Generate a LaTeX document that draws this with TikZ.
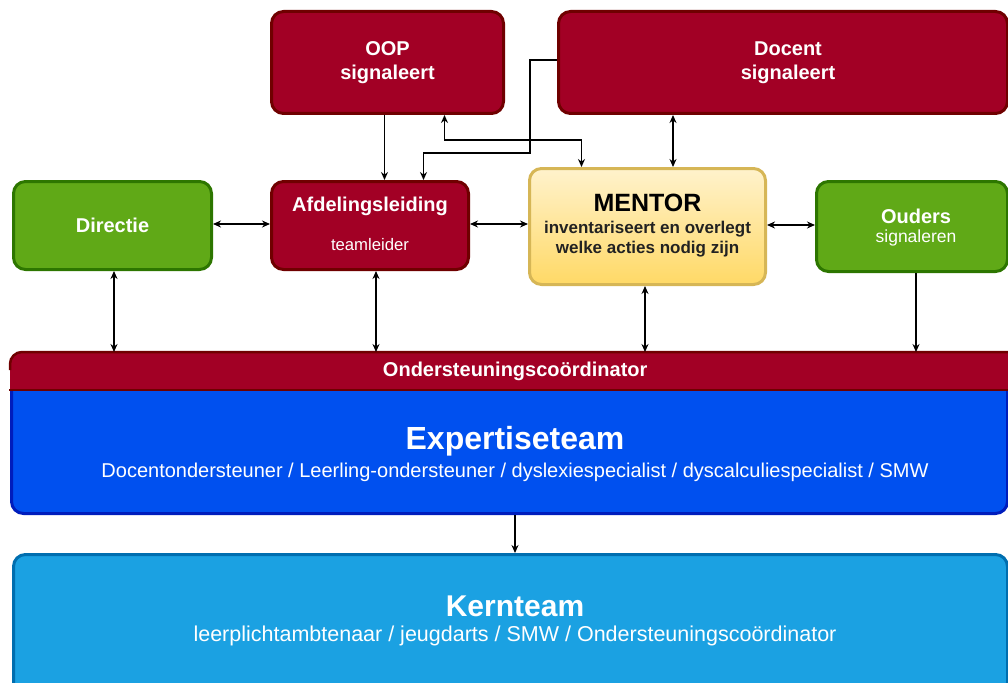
\documentclass[tikz,border=0pt]{standalone}
\usepackage{fontspec}
\setmainfont{Liberation Sans}
\usetikzlibrary{arrows.meta,calc}
\definecolor{redf}{HTML}{A20025}
\definecolor{redd}{HTML}{6F0000}
\definecolor{greenf}{HTML}{60A917}
\definecolor{greend}{HTML}{2D7600}
\definecolor{bluef}{HTML}{0050EF}
\definecolor{blued}{HTML}{001DBC}
\definecolor{cyanf}{HTML}{1BA1E2}
\definecolor{cyand}{HTML}{006EAF}
\definecolor{yelt}{HTML}{FFF2CC}
\definecolor{yelb}{HTML}{FFD966}
\definecolor{yeld}{HTML}{D6B656}
\definecolor{txtd}{HTML}{222222}
\begin{document}
\begin{tikzpicture}[x=1pt,y=-1pt,
 box/.style={rounded corners=12pt, line width=3pt, inner sep=0pt, align=center, anchor=north west},
 redbox/.style={box, fill=redf, draw=redd, text=white},
 greenbox/.style={box, fill=greenf, draw=greend, text=white},
 big/.style={font=\fontsize{20}{24}\selectfont\bfseries},
 arr/.style={-{Stealth[length=8pt,width=7pt]}, line width=1.3pt},
 darr/.style={{Stealth[length=8pt,width=7pt]}-{Stealth[length=8pt,width=7pt]}, line width=1.3pt},
 ]
\useasboundingbox (0,0) rectangle (1008,682);
\clip (0,0) rectangle (1008,682);
% boxes
\node[redbox, big, minimum width=232pt, minimum height=102pt] (oop) at (270,10) {OOP\\signaleert};
\node[redbox, big, minimum width=449pt, minimum height=102pt] (docent) at (557,10) {\hspace*{10pt}Docent\\\hspace*{10pt}signaleert};
\node[greenbox, big, minimum width=198pt, minimum height=88pt] (dir) at (12,180) {Directie};
\node[redbox, minimum width=197pt, minimum height=88pt] (afd) at (270,180) {};
\node[big, text=white] at ($(afd.north)+(0,26)$) {Afdelingsleiding};
\node[text=white, font=\fontsize{16.7}{20}\selectfont] at ($(afd.north)+(0,65)$) {teamleider};
\node[box, top color=yelt, bottom color=yelb, draw=yeld, minimum width=236pt, minimum height=116pt] (mentor) at (528,167) {};
\node[font=\fontsize{25}{28}\selectfont\bfseries] at ($(mentor.north)+(0,36)$) {MENTOR};
\node[text=txtd, align=center, font=\fontsize{17}{20.5}\selectfont\bfseries] at ($(mentor.north)+(0,72)$) {inventariseert en overlegt\\welke acties nodig zijn};
\node[greenbox, minimum width=191pt, minimum height=90pt] (ouders) at (815,180) {};
\node[text=white, big] at ($(ouders.north)+(4,36)$) {Ouders};
\node[text=white, font=\fontsize{17.5}{21}\selectfont] at ($(ouders.north)+(4,58)$) {signaleren};
% expertise
\node[box, fill=bluef, draw=blued, minimum width=996pt, minimum height=160pt] (exp) at (10,352) {};
\fill[redf] (10,390) -- (10,370) [rounded corners=12pt] -- (10,352) -- (1015,352) [sharp corners] -- (1015,390) -- cycle;
\draw[redd, line width=2.5pt] (10,370) [rounded corners=12pt] -- (10,352) -- (1015,352);
\draw[redd, line width=2pt] (9,389.5) -- (1015,389.5);
\node[inner sep=0pt, minimum width=996pt, minimum height=38pt, anchor=north west, text=white, font=\fontsize{20}{24}\selectfont\bfseries] (band) at (10,352) {\hspace*{14pt}Ondersteuningsco\"ordinator};
\node[text=white, font=\fontsize{32}{36}\selectfont\bfseries] at (515,441) {Expertiseteam};
\node[text=white, font=\fontsize{20}{24}\selectfont] at (515,472) {Docentondersteuner / Leerling-ondersteuner / dyslexiespecialist / dyscalculiespecialist / SMW};
% kernteam
\node[box, fill=cyanf, draw=cyand, minimum width=994pt, minimum height=140pt] (kern) at (12,553) {};
\node[text=white, font=\fontsize{30}{34}\selectfont\bfseries] at (515,606) {Kernteam};
\node[text=white, font=\fontsize{21.5}{25}\selectfont] at (515,636) {leerplichtambtenaar / jeugdarts / SMW / Ondersteuningsco\"ordinator};
% connectors
\draw[arr] ($(oop.south)+(-3,0)$) -- ($(afd.north)+(14.5,0)$);
\draw[arr] ([yshift=-50pt]docent.north west) -| (530,153) -| ($(afd.north)+(53.5,0)$);
\draw[darr] ($(oop.south)+(57,0)$) |- ($(mentor.north)+(-66,-27)$) -- ($(mentor.north)+(-66,0)$);
\draw[darr] (docent.south -| 673,0) -- (mentor.north -| 673,0);
\draw[darr] (dir.east |- 0,224) -- (afd.west |- 0,224);
\draw[darr] (afd.east |- 0,224) -- (mentor.west |- 0,224);
\draw[darr] (mentor.east |- 0,225) -- (ouders.west |- 0,225);
\draw[darr] (dir.south -| 114,0) -- (band.north -| 114,0);
\draw[darr] (afd.south -| 376,0) -- (band.north -| 376,0);
\draw[darr] (mentor.south -| 645,0) -- (band.north -| 645,0);
\draw[arr] (ouders.south -| 916,0) -- (band.north -| 916,0);
\draw[arr] (exp.south -| 515,0) -- (kern.north -| 515,0);
\end{tikzpicture}
\end{document}
